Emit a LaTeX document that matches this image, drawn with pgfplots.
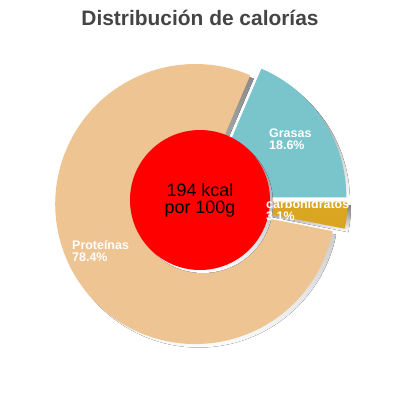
\documentclass[border=0pt]{standalone}
\usepackage{pgfplots}
\pgfplotsset{compat=1.18}
\usepackage{pgfplotstable}
\usepackage{fontspec}
\setmainfont{Liberation Sans}

\definecolor{cProt}{RGB}{237,196,146}
\definecolor{cGras}{RGB}{122,196,204}
\definecolor{cCarb}{RGB}{218,165,32}
\definecolor{shade}{RGB}{102,102,102}
\definecolor{titlegrey}{RGB}{68,68,68}

% slice, percent, colour, label position (px, y down)
\pgfplotstableread{
name value colour lx ly
Grasas 18.6 cGras 269 137
Proteínas 78.4 cProt 72 249
carbohidratos 3.1 cCarb 266 208
}\slices

\newcommand\pietotal{100.1}

\begin{document}
\begin{tikzpicture}
\begin{axis}[
    width=400bp, height=400bp, scale only axis,
    xmin=0, xmax=400, ymin=0, ymax=400,
    y dir=reverse,
    hide axis, clip=false,
  ]
  \path (axis cs:0,0) (axis cs:400,400);

  % shadows
  \def\cum{0}
  \pgfplotsforeachungrouped \i in {0,1,2} {
    \pgfplotstablegetelem{\i}{value}\of\slices \let\v\pgfplotsretval
    \pgfmathsetmacro\a{\cum}
    \pgfmathsetmacro\b{\cum+\v/\pietotal*360}
    \pgfmathsetmacro\m{(\a+\b)/2}
    \xdef\cum{\b}
    \edef\temp{\noexpand\fill[shade] ([shift={(\m:6.5bp)},xshift=3.5bp,yshift=-3.5bp]axis cs:201,201)
      -- ++(\a:140bp) arc[start angle=\a, end angle=\b, radius=140bp] -- cycle;}
    \temp
  }
  % slices
  \def\cum{0}
  \pgfplotsforeachungrouped \i in {0,1,2} {
    \pgfplotstablegetelem{\i}{value}\of\slices \let\v\pgfplotsretval
    \pgfplotstablegetelem{\i}{colour}\of\slices \let\c\pgfplotsretval
    \pgfmathsetmacro\a{\cum}
    \pgfmathsetmacro\b{\cum+\v/\pietotal*360}
    \pgfmathsetmacro\m{(\a+\b)/2}
    \xdef\cum{\b}
    \edef\temp{\noexpand\fill[\c] ([shift={(\m:6.5bp)}]axis cs:201,201)
      -- ++(\a:140bp) arc[start angle=\a, end angle=\b, radius=140bp] -- cycle;}
    \temp
  }

  % centre disc
  \fill[shade] ([xshift=3bp,yshift=-3bp]axis cs:200,200) circle[radius=70bp];
  \fill[red] (axis cs:200,200) circle[radius=70bp];
  \node[anchor=base, inner sep=0, font=\fontsize{18}{18}\selectfont] at (axis cs:200,196) {194 kcal};
  \node[anchor=base, inner sep=0, font=\fontsize{18}{18}\selectfont] at (axis cs:200,213) {por 100g};

  % labels
  \pgfplotsforeachungrouped \i in {0,1,2} {
    \pgfplotstablegetelem{\i}{name}\of\slices \let\n\pgfplotsretval
    \pgfplotstablegetelem{\i}{value}\of\slices \let\v\pgfplotsretval
    \pgfplotstablegetelem{\i}{lx}\of\slices \let\lx\pgfplotsretval
    \pgfplotstablegetelem{\i}{ly}\of\slices \let\ly\pgfplotsretval
    \pgfmathsetmacro\lyb{\ly+12}
    \edef\temp{\noexpand\node[anchor=base west, inner sep=0, text=white,
        font=\noexpand\bfseries\noexpand\fontsize{12.5}{13}\noexpand\selectfont] at (axis cs:\lx,\ly) {\n};
      \noexpand\node[anchor=base west, inner sep=0, text=white,
        font=\noexpand\bfseries\noexpand\fontsize{12.5}{13}\noexpand\selectfont] at (axis cs:\lx,\lyb) {\v\noexpand\%};}
    \temp
  }

  \node[anchor=base, inner sep=0, text=titlegrey, font=\bfseries\fontsize{21}{24}\selectfont]
    at (axis cs:200,25) {Distribución de calorías};
\end{axis}
\end{tikzpicture}
\end{document}
